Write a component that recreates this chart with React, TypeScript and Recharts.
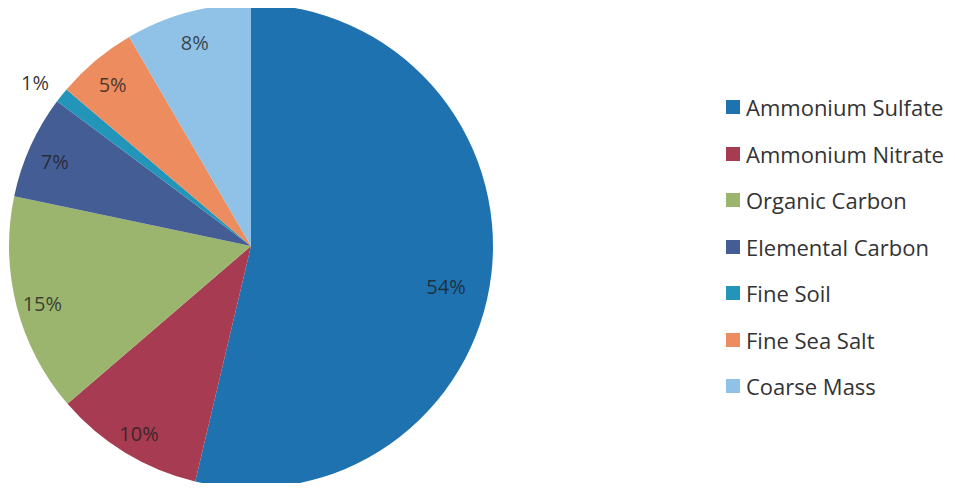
import React from "react";
import { PieChart, Pie, Cell, Legend } from "recharts";

const categories = [
  "Ammonium Sulfate",
  "Ammonium Nitrate",
  "Organic Carbon",
  "Elemental Carbon",
  "Fine Soil",
  "Fine Sea Salt",
  "Coarse Mass",
];
const values = [53.7, 10.0, 14.6, 6.9, 1.0, 5.4, 8.4];
const colors = ["#1f72b0", "#a63b52", "#9bb56f", "#455d95", "#2395b8", "#ec8c5f", "#8fc2e6"];

const data = categories.map((name, i) => ({ name, value: values[i] }));

const RAD = Math.PI / 180;
const FONT = "'Open Sans', sans-serif";

const renderLabel = (props: any) => {
  const { cx, cy, midAngle, outerRadius, percent } = props;
  const outside = percent < 0.02;
  const big = percent > 0.5;
  const r = outside ? outerRadius + 34 : outerRadius * (big ? 0.82 : 0.89);
  const ang = big ? midAngle - 4 : midAngle;
  const x = cx + r * Math.cos(-ang * RAD);
  const y = cy + r * Math.sin(-ang * RAD) + (outside ? 8 : 4);
  return (
    <text
      x={x}
      y={y}
      textAnchor="middle"
      dominantBaseline="central"
      fontFamily={FONT}
      fontSize={20}
      fill="#1e1e1e"
      fillOpacity={outside ? 0.92 : 0.8}
    >
      {`${Math.round(percent * 100)}%`}
    </text>
  );
};

const renderLegend = () => {
  return (
    <div style={{ fontFamily: FONT }}>
      {categories.map((name, i) => (
        <div
          key={name}
          style={{ display: "flex", alignItems: "center", height: 46.5 }}
        >
          <span
            style={{
              display: "inline-block",
              width: 14,
              height: 14,
              background: colors[i],
              marginRight: 6,
            }}
          />
          <span style={{ fontSize: 22, color: "#333", whiteSpace: "nowrap" }}>{name}</span>
        </div>
      ))}
    </div>
  );
};

export default function App() {
  return (
    <div style={{ position: "relative", width: 955, height: 491, margin: -8, background: "#fff" }}>
      <div
        style={{
          position: "absolute",
          left: 0,
          top: 1,
          width: 955,
          height: 2,
          background: "#c9d2ef",
        }}
      />
      <PieChart width={955} height={491} margin={{ top: 0, right: 0, bottom: 0, left: 0 }}>
        <Pie
          data={data}
          dataKey="value"
          nameKey="name"
          cx={251}
          cy={246}
          outerRadius={242}
          startAngle={90}
          endAngle={-270}
          stroke="none"
          label={renderLabel}
          labelLine={false}
          isAnimationActive={false}
        >
          {data.map((d, i) => (
            <Cell key={d.name} fill={colors[i]} />
          ))}
        </Pie>
        <Legend
          layout="vertical"
          align="right"
          verticalAlign="top"
          content={renderLegend}
          wrapperStyle={{ left: 726, top: 84, width: 229 }}
        />
      </PieChart>
    </div>
  );
}
